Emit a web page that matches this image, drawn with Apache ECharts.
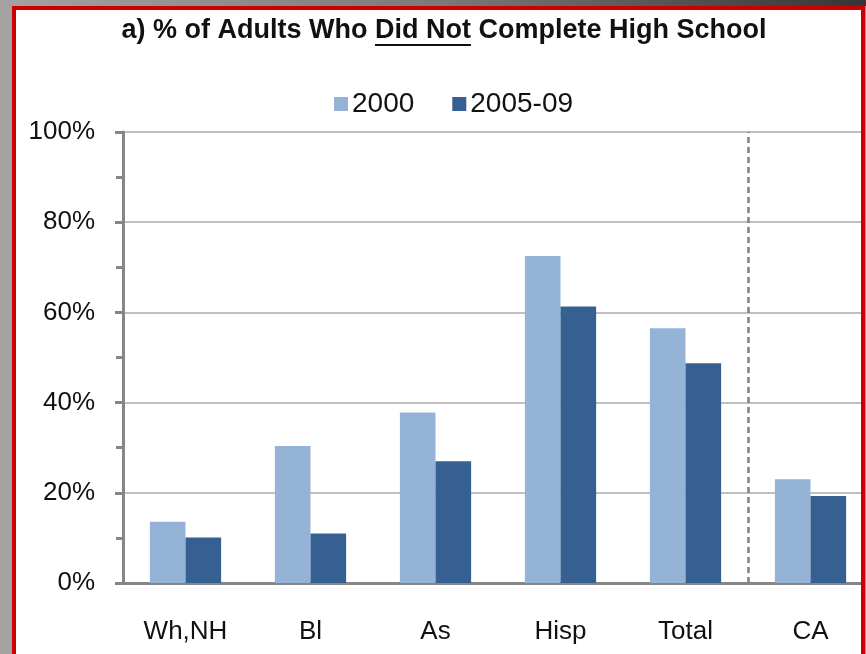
<!DOCTYPE html>
<html>
<head>
<meta charset="utf-8">
<script src="https://cdn.jsdelivr.net/npm/echarts@6/dist/echarts.min.js"></script>
<style>
html,body{margin:0;padding:0;background:#a6a6a6;overflow:hidden;width:866px;height:654px;}
#chart{width:880px;height:654px;}
</style>
</head>
<body>
<div id="chart"></div>
<script>
var categories = ['Wh,NH', 'Bl', 'As', 'Hisp', 'Total', 'CA'];
var series2000 = [13.6, 30.4, 37.8, 72.5, 56.5, 23.0];
var series2005 = [10.1, 11.0, 27.0, 61.3, 48.7, 19.3];
var seriesNames = ['2000', '2005-09'];
var yTicks = [0, 20, 40, 60, 80, 100];
var separatorBoundary = [5];  // boundary between 'Total' and 'CA' (in category units)

var titlePre = 'a) % of Adults Who ';
var titleU = 'Did Not';
var titlePost = ' Complete High School';
var titleFont = 'bold 27px "Liberation Sans", Arial, sans-serif';

var cv = document.createElement('canvas').getContext('2d');
cv.font = titleFont;
var wPre = cv.measureText(titlePre).width;
var wU = cv.measureText(titleU).width;
var wAll = cv.measureText(titlePre + titleU + titlePost).width;
var titleCenter = 444;
var titleLeft = titleCenter - wAll / 2;

var chart = echarts.init(document.getElementById('chart'));
var option = {
  backgroundColor: '#ffffff',
  animation: false,
  title: {
    text: titlePre + titleU + titlePost,
    left: titleLeft,
    top: 17,
    padding: 0,
    textStyle: {
      fontFamily: '"Liberation Sans", Arial, sans-serif',
      fontSize: 27,
      fontWeight: 'bold',
      color: '#111111',
      lineHeight: 28
    }
  },
  legend: {
    data: seriesNames,
    left: 334,
    top: 90,
    padding: 0,
    itemWidth: 14,
    itemHeight: 14,
    itemGap: 38,
    icon: 'rect',
    textStyle: {
      fontFamily: '"Liberation Sans", Arial, sans-serif',
      fontSize: 28,
      color: '#111111',
      padding: [0, 0, 0, -1]
    }
  },
  grid: {
    left: 123,
    top: 132,
    width: 750,
    bottom: 71,
    containLabel: false
  },
  xAxis: [
    {
      type: 'category',
      data: categories,
      boundaryGap: true,
      axisLine: { show: true, lineStyle: { color: '#868686', width: 3 } },
      axisTick: { show: false },
      axisLabel: {
        fontFamily: '"Liberation Sans", Arial, sans-serif',
        fontSize: 26,
        color: '#111111',
        margin: 36,
        interval: 0
      },
      splitLine: { show: false }
    },
    {
      type: 'value',
      min: 0,
      max: categories.length,
      show: false,
      splitLine: { show: false }
    }
  ],
  yAxis: {
    type: 'value',
    min: yTicks[0],
    max: yTicks[yTicks.length - 1],
    interval: 20,
    axisLine: { show: true, lineStyle: { color: '#868686', width: 3 } },
    axisTick: { show: true, inside: false, length: 8, lineStyle: { color: '#868686', width: 3 } },
    minorTick: { show: true, splitNumber: 2, length: 7, lineStyle: { color: '#868686', width: 3 } },
    axisLabel: {
      formatter: '{value}%',
      fontFamily: '"Liberation Sans", Arial, sans-serif',
      fontSize: 26,
      color: '#111111',
      margin: 28
    },
    splitLine: { show: true, lineStyle: { color: '#c0c0c0', width: 2 } }
  },
  series: [
    {
      name: seriesNames[0],
      type: 'bar',
      data: series2000,
      barGap: '0%',
      barCategoryGap: '43%',
      itemStyle: { color: '#95b3d7' }
    },
    {
      name: seriesNames[1],
      type: 'bar',
      data: series2005,
      barGap: '0%',
      barCategoryGap: '43%',
      itemStyle: { color: '#376092' }
    },
    {
      name: 'separator',
      type: 'line',
      xAxisIndex: 1,
      yAxisIndex: 0,
      data: [],
      silent: true,
      markLine: {
        silent: true,
        symbol: ['none', 'none'],
        label: { show: false },
        lineStyle: { color: '#808080', width: 2.5, type: [6, 4] },
        data: separatorBoundary.map(function (b) { return { xAxis: b }; })
      }
    }
  ],
  graphic: [
    {
      type: 'line',
      z: 100,
      shape: { x1: titleLeft + wPre, y1: 45, x2: titleLeft + wPre + wU, y2: 45 },
      style: { stroke: '#111111', lineWidth: 2 }
    },
    {
      type: 'rect', z: 200, silent: true,
      shape: { x: 0, y: 0, width: 12, height: 654 },
      style: { fill: '#a3a3a3' }
    },
    {
      type: 'rect', z: 200, silent: true,
      shape: { x: 865, y: 0, width: 20, height: 654 },
      style: { fill: '#9a9a9a' }
    },
    {
      type: 'rect', z: 200, silent: true,
      shape: { x: 0, y: 0, width: 880, height: 6 },
      style: {
        fill: new echarts.graphic.LinearGradient(0, 0, 1, 0, [
          { offset: 0, color: '#a3a3a3' },
          { offset: 0.5, color: '#7a7a7a' },
          { offset: 1, color: '#333333' }
        ])
      }
    },
    {
      type: 'rect', z: 210, silent: true,
      shape: { x: 14, y: 8, width: 849, height: 700 },
      style: { fill: null, stroke: '#cc0000', lineWidth: 4 }
    }
  ]
};
chart.setOption(option);
</script>
</body>
</html>
